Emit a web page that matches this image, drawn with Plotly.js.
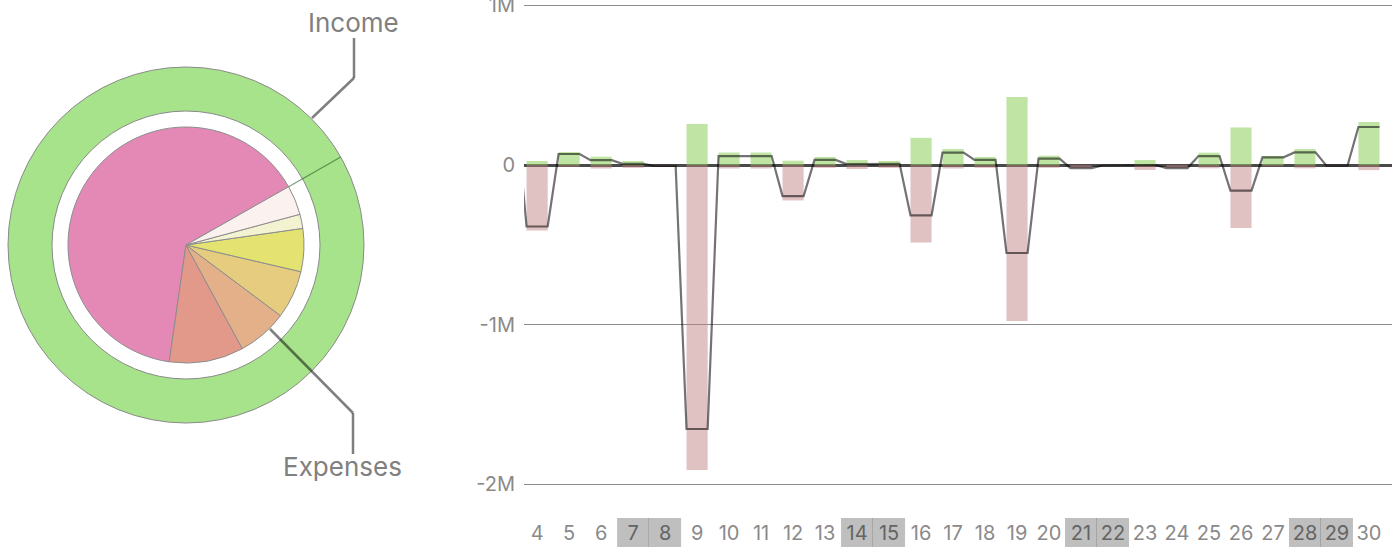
<!DOCTYPE html>
<html>
<head>
<meta charset="utf-8">
<script src="https://cdn.plot.ly/plotly-3.0.1.min.js"></script>
<style>html,body{margin:0;padding:0;background:#fff;}#chart{width:1400px;height:547px;}</style>
</head>
<body>
<div id="chart"></div>
<script>
// ---- data ----
const days = [3,4,5,6,7,8,9,10,11,12,13,14,15,16,17,18,19,20,21,22,23,24,25,26,27,28,29,30];
const income = [0.35,0.025,0.081,0.052,0.025,0,0.257,0.078,0.078,0.027,0.05,0.031,0.025,0.17,0.1,0.05,0.426,0.058,0,0,0.031,0,0.077,0.235,0.056,0.1,0,0.27].map(v=>v*1e6);
const expense = [0,0.41,0.012,0.022,0.018,0.006,1.91,0.022,0.022,0.222,0.018,0.025,0.018,0.485,0.022,0.018,0.977,0.018,0.019,0.003,0.031,0.019,0.021,0.395,0.008,0.021,0.004,0.032].map(v=>v*1e6);
const weekendDays = [7,8,14,15,21,22,28,29];
const yTickVals = [1e6, 0, -1e6, -2e6];
const yTickText = ['1M','0','-1M','-2M'];

const expenseLabels = ['Expense 1','Expense 2','Expense 3','Expense 4','Expense 5','Expense 6','Expense 7'];
const expenseShares = [64.5,10.19,6.86,6.58,5.89,1.94,4.03];
const expenseColors = ['#e489b6','#e3998a','#e4b089','#e5cc7f','#e4e372','#f3f3d2','#fbf1ef'];
const incomeLabels = ['Income'];
const incomeShares = [100];

// ---- layout geometry (pixels) ----
const W = 1400, H = 547, MB = 30, PH = H - MB;
const px = v => v / W;
const py = v => (PH - v) / PH;
const cx = 186, cy = 245, rRing = 178, rHole = 134, rPie = 118;
const pieStartCompass = 60.4; // first slice ends here (going counterclockwise)
const shareSum = expenseShares.reduce((s,v)=>s+v,0);
const pieRotation = pieStartCompass - expenseShares[0]/shareSum*360;

const net = income.map((v,i)=>v-expense[i]);
const half = 0.33;
const lineX = [], lineY = [];
days.forEach((d,i)=>{ lineX.push(d-half, d+half); lineY.push(net[i], net[i]); });

const visDays = days.slice(1), visInc = income.slice(1), visExp = expense.slice(1).map(v=>-v);

const traces = [
  {type:'bar', x:visDays, y:visInc, width:0.66, marker:{color:'rgba(138,205,90,0.55)', line:{width:0}}, showlegend:false, hoverinfo:'skip'},
  {type:'bar', x:visDays, y:visExp, width:0.66, marker:{color:'rgba(190,128,128,0.48)', line:{width:0}}, showlegend:false, hoverinfo:'skip'},
  {type:'scatter', mode:'lines', x:lineX, y:lineY, line:{color:'rgba(0,0,0,0.55)', width:2.2}, showlegend:false, hoverinfo:'skip'},
  {type:'pie', labels:incomeLabels, values:incomeShares, hole:rHole/rRing, sort:false,
   domain:{x:[px(cx-rRing), px(cx+rRing)], y:[py(cy+rRing), py(cy-rRing)]},
   marker:{colors:['#a7e38a'], line:{color:'#8a8a8a', width:1}}, textinfo:'none', hoverinfo:'skip', showlegend:false},
  {type:'pie', labels:expenseLabels, values:expenseShares, sort:false, direction:'counterclockwise', rotation:pieRotation,
   domain:{x:[px(cx-rPie), px(cx+rPie)], y:[py(cy+rPie), py(cy-rPie)]},
   marker:{colors:expenseColors, line:{color:'#8d8d8d', width:1}}, textinfo:'none', hoverinfo:'skip', showlegend:false}
];

const shapes = [];
weekendDays.forEach((d,i)=>{
  shapes.push({type:'rect', xref:'x', yref:'paper', x0:d-0.5, x1:d+0.5, y0:py(518), y1:py(547), fillcolor:'#bfbfbf', line:{width:0}, layer:'below'});
  if (i%2===0) shapes.push({type:'line', xref:'x', yref:'paper', x0:d+0.5, x1:d+0.5, y0:py(518), y1:py(547), line:{color:'#8a8a8a', width:1}, layer:'below'});
});
const lead = 'rgba(0,0,0,0.5)';
function seg(x0,y0,x1,y1,color,w){ shapes.push({type:'line', xref:'paper', yref:'paper', x0:px(x0), y0:py(y0), x1:px(x1), y1:py(y1), line:{color:color, width:w}}); }
// divider at start of pie
const a = (90-pieStartCompass)*Math.PI/180;
seg(cx+rPie*Math.cos(a), cy-rPie*Math.sin(a), cx+rRing*Math.cos(a), cy-rRing*Math.sin(a), 'rgba(40,90,40,0.6)', 1.2);
// leader lines
seg(312,118,354,78,lead,2.5); seg(354,78,354,38,lead,2.5);
seg(270,329,353,413,lead,2.5); seg(353,413,353,454,lead,2.5);

const tickFont = {family:'Inter, "Open Sans", sans-serif', size:20, color:'#8a8a8a'};
const layout = {
  width:W, height:H, margin:{l:0, r:0, t:0, b:MB},
  paper_bgcolor:'#fff', plot_bgcolor:'rgba(0,0,0,0)',
  barmode:'overlay', showlegend:false,
  xaxis:{domain:[px(524), px(1392)], range:[3.59, 30.72], tickmode:'array', tickvals:visDays,
         ticktext:visDays.map(d=> weekendDays.includes(d) ? '<span style="color:#646464">'+d+'</span>' : String(d)),
         showgrid:false, zeroline:false, showline:false, ticks:'', tickfont:tickFont, ticklabelstandoff:2, fixedrange:true},
  yaxis:{range:[-(PH-165)/159.7*1e6, 165/159.7*1e6], tickmode:'array', tickvals:yTickVals, ticktext:yTickText,
         showgrid:true, gridcolor:'#8c8c8c', gridwidth:1, zeroline:true, zerolinecolor:'#4a4a4a', zerolinewidth:3,
         showline:false, ticks:'', tickfont:tickFont, ticklabelstandoff:8, ticklabeloverflow:'allow', fixedrange:true},
  shapes:shapes,
  annotations:[
    {xref:'paper', yref:'paper', x:px(354), y:py(23), text:'Income', showarrow:false, xanchor:'center', yanchor:'middle', font:{family:'Inter, "Open Sans", sans-serif', size:26, color:'#808080'}},
    {xref:'paper', yref:'paper', x:px(342), y:py(466), text:'Expenses', showarrow:false, xanchor:'center', yanchor:'middle', font:{family:'Inter, "Open Sans", sans-serif', size:26, color:'#808080'}}
  ]
};
Plotly.newPlot('chart', traces, layout, {displayModeBar:false, staticPlot:true});
</script>
</body>
</html>
